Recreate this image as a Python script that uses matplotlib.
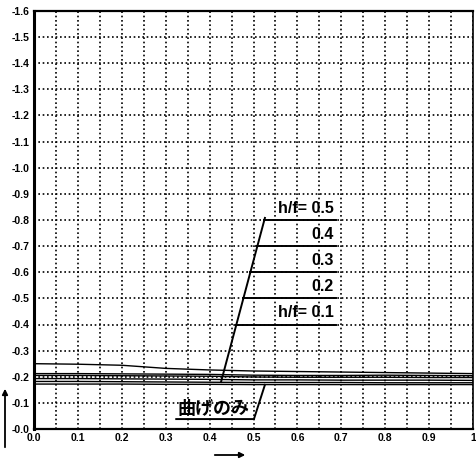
import matplotlib
matplotlib.use("Agg")
import matplotlib.pyplot as plt
import numpy as np

# ---- data ----
x_vals = [0.0, 0.1, 0.2, 0.3, 0.4, 0.5, 0.6, 0.7, 0.8, 0.9, 1.0]
hf_05 = [-0.250, -0.248, -0.244, -0.232, -0.226, -0.222, -0.220, -0.218, -0.216, -0.214, -0.212]
hf_04 = [-0.212, -0.212, -0.211, -0.210, -0.209, -0.206, -0.205, -0.205, -0.206, -0.205, -0.204]
hf_03 = [-0.205, -0.205, -0.204, -0.203, -0.202, -0.199, -0.198, -0.198, -0.198, -0.197, -0.197]
hf_02 = [-0.193, -0.193, -0.192, -0.191, -0.190, -0.188, -0.188, -0.187, -0.187, -0.187, -0.186]
hf_01 = [-0.182, -0.182, -0.181, -0.180, -0.179, -0.178, -0.178, -0.178, -0.177, -0.177, -0.177]
bend_only = [-0.172, -0.172, -0.172, -0.171, -0.171, -0.170, -0.170, -0.170, -0.170, -0.170, -0.170]

series = [hf_05, hf_04, hf_03, hf_02, hf_01, bend_only]
hf_labels = ["h/f= 0.5", "0.4", "0.3", "0.2", "h/f= 0.1"]
hf_levels = [-0.8, -0.7, -0.6, -0.5, -0.4]
bend_label = "曲げのみ"

x_ticks = [0.0, 0.1, 0.2, 0.3, 0.4, 0.5, 0.6, 0.7, 0.8, 0.9, 1.0]
x_ticklabels = ["0.0", "0.1", "0.2", "0.3", "0.4", "0.5", "0.6", "0.7", "0.8", "0.9", "1"]
y_ticks = [-0.1 * i for i in range(17)]
y_ticklabels = ["-%.1f" % (0.1 * i) for i in range(17)]

FONT = ["Liberation Sans Narrow", "Liberation Sans", "DejaVu Sans"]
JFONT = ["Noto Sans CJK JP", "DejaVu Sans"]

fig = plt.figure(figsize=(4.76, 4.59), dpi=100)
ax = fig.add_axes([34 / 476, 1 - 429 / 459, (473 - 34) / 476, (429 - 11) / 459])

for s in series:
    ax.plot(x_vals, s, color="black", lw=1.0, zorder=3)

ax.set_xlim(0, 1.0)
ax.set_ylim(0, -1.6)

ax.set_xticks(x_ticks)
ax.set_xticklabels(x_ticklabels, fontfamily=FONT, fontweight="bold", fontsize=7.5)
ax.set_xticks(np.arange(0.05, 1.0, 0.1), minor=True)
ax.set_yticks(y_ticks)
ax.set_yticklabels(y_ticklabels, fontfamily=FONT, fontweight="bold", fontsize=7.5)
ax.tick_params(which="both", length=0, pad=3)

ax.grid(True, which="major", color="black", linestyle=(0, (1, 1.6)), lw=1.2)
ax.grid(True, which="minor", axis="x", color="black", linestyle=(0, (1, 1.6)), lw=1.2)

for side, w in [("left", 2.2), ("top", 1.6), ("bottom", 1.6), ("right", 1.2)]:
    ax.spines[side].set_linewidth(w)

# leader lines for h/f labels
p_top = (0.526, -0.808)
p_bot = (0.426, -0.180)
ax.plot([p_top[0], p_bot[0]], [p_top[1], p_bot[1]], color="black", lw=1.4, zorder=4)
slope = (p_top[0] - p_bot[0]) / (p_top[1] - p_bot[1])
x_end = 0.687
for lab, lev in zip(hf_labels, hf_levels):
    xs = p_bot[0] + slope * (lev - p_bot[1])
    ax.plot([xs, x_end], [lev, lev], color="black", lw=1.4, zorder=4)
    ax.text(x_end - 0.005, lev - 0.016, lab, ha="right", va="bottom",
            fontfamily=FONT, fontweight="bold", fontsize=11.5, zorder=5)

# bending only label
ax.plot([0.324, 0.501, 0.526], [-0.038, -0.038, -0.169], color="black", lw=1.4, zorder=4)
ax.text(0.41, -0.044, bend_label, ha="center", va="bottom",
        fontfamily=JFONT, fontweight="bold", fontsize=13, zorder=5)

# direction arrows outside the axes
fig.add_artist(matplotlib.patches.FancyArrowPatch(
    (212 / 476, 1 - 455 / 459), (248 / 476, 1 - 455 / 459),
    transform=fig.transFigure, arrowstyle="-|>", mutation_scale=8, color="black", lw=1.3))
fig.add_artist(matplotlib.patches.FancyArrowPatch(
    (5 / 476, 1 - 450 / 459), (5 / 476, 1 - 386 / 459),
    transform=fig.transFigure, arrowstyle="-|>", mutation_scale=8, color="black", lw=1.3))

fig.savefig("out.png", dpi=100)
